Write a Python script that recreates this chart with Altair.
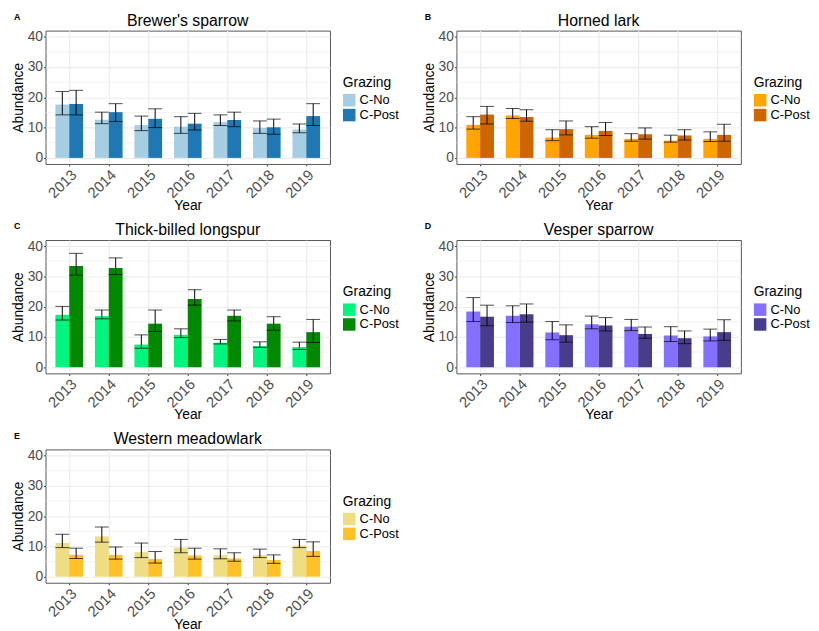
import altair as alt
import pandas as pd

years = ["2013", "2014", "2015", "2016", "2017", "2018", "2019"]
groups = ["C-No", "C-Post"]

brewer_no = [17.6, 12.6, 10.8, 10.3, 11.8, 9.9, 9.4]
brewer_no_lo = [14.2, 11.3, 9.0, 8.1, 10.7, 8.1, 8.3]
brewer_no_hi = [21.9, 15.1, 13.8, 13.6, 14.2, 12.2, 11.2]
brewer_post = [17.8, 15.1, 12.9, 11.3, 12.5, 10.1, 13.8]
brewer_post_lo = [14.2, 12.0, 10.0, 9.2, 10.3, 7.8, 10.7]
brewer_post_hi = [22.3, 17.9, 16.2, 14.7, 15.1, 12.8, 17.9]

lark_no = [10.9, 14.0, 6.7, 7.6, 6.3, 5.7, 6.3]
lark_no_lo = [9.5, 13.0, 5.7, 6.5, 5.5, 5.2, 5.4]
lark_no_hi = [13.6, 16.3, 9.3, 10.3, 8.0, 7.5, 8.6]
lark_post = [14.3, 13.5, 9.5, 8.9, 7.8, 7.4, 7.6]
lark_post_lo = [11.2, 12.1, 7.6, 7.4, 6.2, 5.9, 5.5]
lark_post_hi = [17.0, 15.9, 12.2, 11.7, 9.9, 9.3, 11.1]

longspur_no = [17.3, 16.9, 7.5, 10.7, 8.1, 7.0, 6.7]
longspur_no_lo = [15.6, 16.0, 6.3, 9.8, 7.7, 6.6, 5.9]
longspur_no_hi = [20.1, 18.9, 10.7, 12.7, 9.2, 8.4, 8.3]
longspur_post = [33.4, 32.8, 14.4, 22.5, 17.0, 14.4, 11.6]
longspur_post_lo = [30.4, 30.6, 11.8, 20.5, 15.3, 12.2, 8.2]
longspur_post_hi = [37.6, 36.1, 18.9, 25.6, 18.9, 16.7, 15.8]

vesper_no = [18.4, 17.0, 11.5, 14.2, 13.4, 10.5, 10.2]
vesper_no_lo = [15.1, 14.8, 9.1, 12.7, 12.1, 8.5, 8.7]
vesper_no_hi = [23.0, 20.3, 15.1, 16.9, 15.8, 13.4, 12.6]
vesper_post = [16.7, 17.5, 10.6, 13.8, 11.0, 9.6, 11.6]
vesper_post_lo = [13.7, 14.9, 8.3, 12.0, 9.6, 7.8, 8.9]
vesper_post_hi = [20.5, 20.9, 14.0, 16.4, 13.3, 12.0, 15.7]

meadowlark_no = [11.1, 13.3, 8.1, 9.6, 7.1, 7.1, 10.3]
meadowlark_no_lo = [9.6, 11.4, 6.3, 7.9, 5.9, 6.3, 9.6]
meadowlark_no_hi = [14.0, 16.4, 11.1, 12.3, 9.2, 9.1, 12.3]
meadowlark_post = [7.2, 7.2, 5.8, 7.0, 6.0, 5.5, 8.5]
meadowlark_post_lo = [6.0, 5.8, 4.5, 5.8, 5.1, 4.4, 6.7]
meadowlark_post_hi = [9.4, 9.8, 8.3, 9.4, 7.9, 7.2, 11.5]

minor_grid = [5, 15, 25, 35]
major_ticks = [0, 10, 20, 30, 40]

FONT = "Liberation Sans"
W, H = 288, 135


def panel(letter, title, no, no_lo, no_hi, post, post_lo, post_hi, colors):
    df = pd.DataFrame({
        "Year": years + years,
        "Grazing": [groups[0]] * 7 + [groups[1]] * 7,
        "Abundance": no + post,
        "lo": no_lo + post_lo,
        "hi": no_hi + post_hi,
    })
    yscale = alt.Scale(domain=[-2, 42], nice=False, zero=False)
    yaxis = alt.Axis(values=major_ticks, labelFontSize=14, labelPadding=1,
                     titlePadding=2, tickSize=2, gridColor="#ebebeb",
                     gridWidth=1.1)
    x = alt.X("Year:N", title="Year",
              scale=alt.Scale(paddingInner=0.3, paddingOuter=0.25),
              axis=alt.Axis(labelAngle=-45, bandPosition=0.5, labelFontSize=15,
                            labelPadding=1, tickSize=2, titlePadding=-2,
                            gridColor="#ebebeb", gridWidth=1.1, grid=True,
                            labelAlign="right", labelBaseline="top"))
    xo = alt.XOffset("Grazing:N",
                     scale=alt.Scale(domain=groups, paddingInner=0, paddingOuter=0))
    base = alt.Chart(df)

    minor = alt.Chart(pd.DataFrame({"g": minor_grid})).mark_rule(
        color="#ebebeb", strokeWidth=0.6).encode(
        y=alt.Y("g:Q", scale=yscale, axis=yaxis, title="Abundance"))

    bars = base.mark_bar().encode(
        x=x, xOffset=xo,
        y=alt.Y("Abundance:Q", scale=yscale, axis=yaxis, title="Abundance"),
        y2=alt.datum(0),
        color=alt.Color("Grazing:N",
                        scale=alt.Scale(domain=groups, range=colors),
                        legend=alt.Legend(title="Grazing", orient="none",
                                          legendX=301, legendY=46)),
    )
    rules = base.mark_rule(color="black", strokeWidth=1).encode(
        x=x, xOffset=xo,
        y=alt.Y("lo:Q", scale=yscale, axis=yaxis, title="Abundance"),
        y2="hi:Q")
    cap_lo = base.mark_tick(color="black", thickness=1, size=14).encode(
        x=x, xOffset=xo,
        y=alt.Y("lo:Q", scale=yscale, axis=yaxis, title="Abundance"))
    cap_hi = base.mark_tick(color="black", thickness=1, size=14).encode(
        x=x, xOffset=xo,
        y=alt.Y("hi:Q", scale=yscale, axis=yaxis, title="Abundance"))
    lab = alt.Chart(pd.DataFrame({"t": [letter]})).mark_text(
        fontWeight="bold", fontSize=9, align="left", baseline="alphabetic",
        color="black").encode(text="t:N", x=alt.value(-32), y=alt.value(-11))
    ttl = alt.Chart(pd.DataFrame({"t": [title]})).mark_text(
        fontSize=16, align="center", baseline="alphabetic",
        color="black").encode(text="t:N", x=alt.value(W / 2), y=alt.value(-5))

    return alt.layer(minor, bars, rules, cap_lo, cap_hi, lab, ttl).properties(
        width=W, height=H)


pa = panel("A", "Brewer's sparrow", brewer_no, brewer_no_lo, brewer_no_hi,
           brewer_post, brewer_post_lo, brewer_post_hi, ["#a6cee3", "#1f78b4"])
pb = panel("B", "Horned lark", lark_no, lark_no_lo, lark_no_hi,
           lark_post, lark_post_lo, lark_post_hi, ["#ffa500", "#cd6600"])
pc = panel("C", "Thick-billed longspur", longspur_no, longspur_no_lo, longspur_no_hi,
           longspur_post, longspur_post_lo, longspur_post_hi, ["#00f57f", "#008800"])
pd_ = panel("D", "Vesper sparrow", vesper_no, vesper_no_lo, vesper_no_hi,
            vesper_post, vesper_post_lo, vesper_post_hi, ["#8470ff", "#483d8b"])
pe = panel("E", "Western meadowlark", meadowlark_no, meadowlark_no_lo, meadowlark_no_hi,
           meadowlark_post, meadowlark_post_lo, meadowlark_post_hi, ["#eedd82", "#ffc125"])

row1 = alt.hconcat(pa, pb, spacing=21).resolve_scale(color="independent")
row2 = alt.hconcat(pc, pd_, spacing=21).resolve_scale(color="independent")

chart = alt.vconcat(row1, row2, pe, spacing=8).resolve_scale(
    color="independent").properties(
    padding={"left": 2, "top": 0, "right": 0, "bottom": 0}
).configure(font=FONT).configure_view(
    stroke="#555555", strokeWidth=1
).configure_axis(
    domain=False, tickColor="#333333", labelColor="#4d4d4d",
    titleFontSize=14, titleFontWeight="normal", titleColor="black",
    labelFont=FONT, titleFont=FONT,
).configure_legend(
    titleFontSize=14, titleFontWeight="normal", titleColor="black",
    labelFontSize=13, labelColor="black", symbolType="square",
    symbolSize=160, symbolStrokeWidth=0, rowPadding=1, titlePadding=4,
    symbolOpacity=1,
)

chart.save("out.html", embed_options={"renderer": "svg", "actions": False})
